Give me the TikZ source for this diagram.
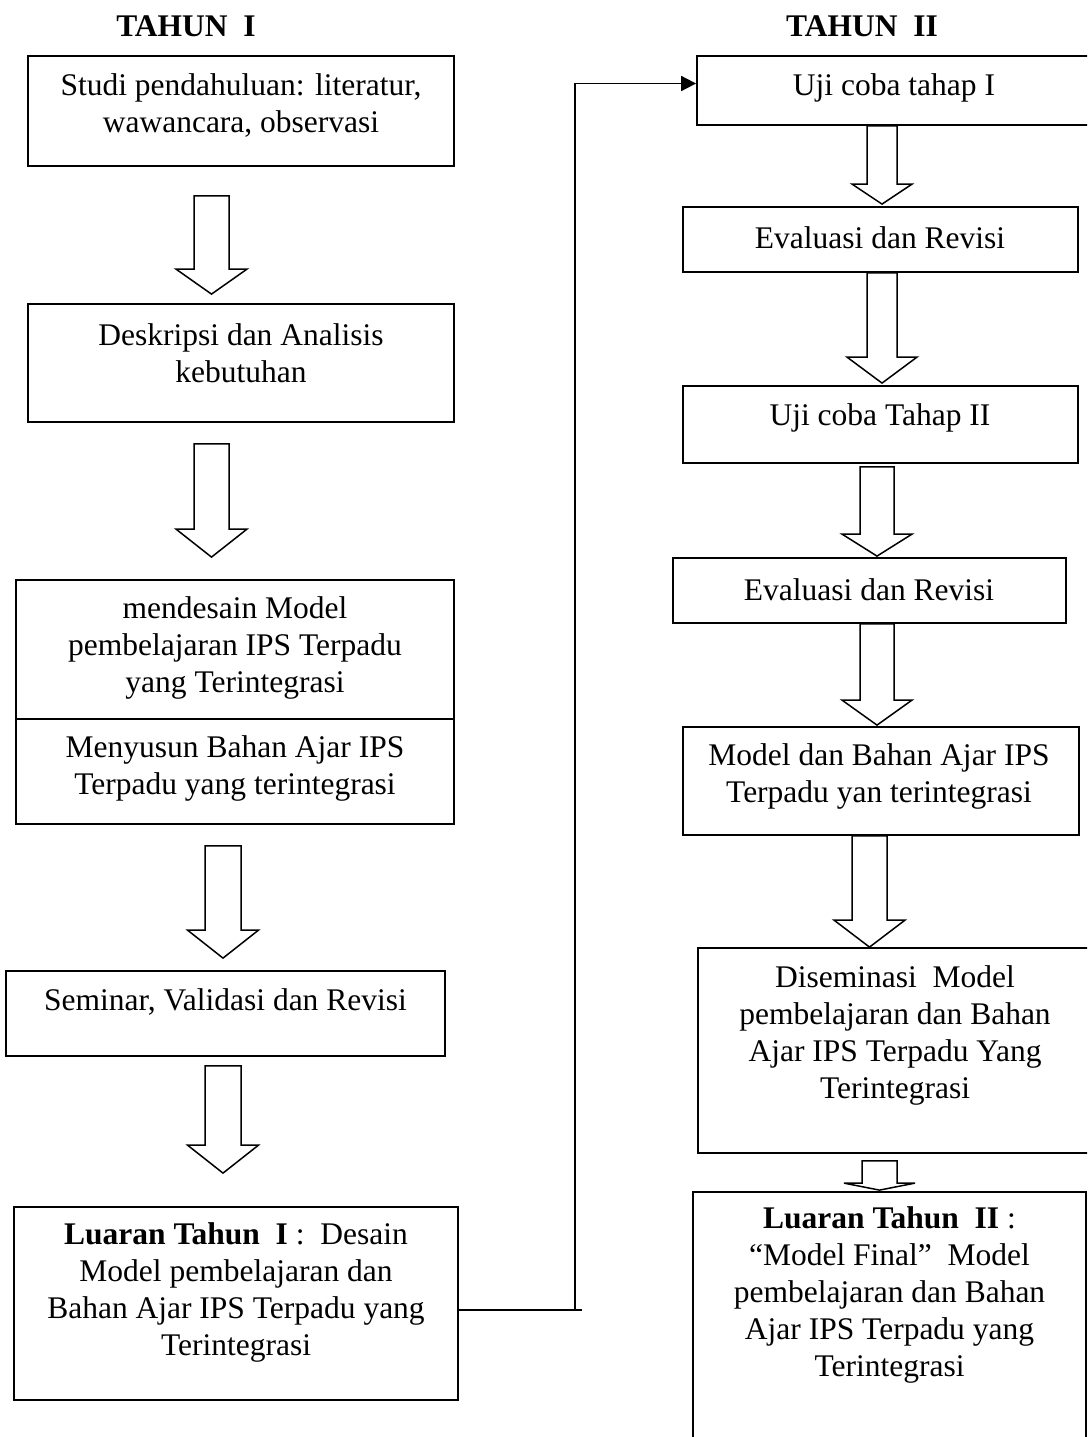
\documentclass[tikz,border=0pt]{standalone}
\usepackage{fontspec}
\setmainfont{Liberation Serif}
\usetikzlibrary{calc,arrows.meta}
\tikzset{>={Triangle[length=15pt,width=15pt]}}
% panah blok: #1 setengah batang, #2 setengah kepala, #3 panjang kepala, #4 pangkal, #5 ujung
\newcommand{\panah}[5]{%
  \draw[line width=1.5pt,fill=white] let \p1=(#4), \p2=(#5) in
    (\x1-#1pt,\y1) -- (\x1-#1pt,\y2+#3pt) -- (\x1-#2pt,\y2+#3pt) -- (\x1,\y2)
    -- (\x1+#2pt,\y2+#3pt) -- (\x1+#1pt,\y2+#3pt) -- (\x1+#1pt,\y1) -- cycle;}

\begin{document}
\begin{tikzpicture}[x=1pt,y=-1pt,
    kotak/.style={draw,line width=1.8pt,inner sep=0pt},
    teks/.style={align=center,inner sep=0pt,font=\fontsize{31.5}{37}\selectfont}]
    \useasboundingbox (0,0) rectangle (1087,1437);
    \clip (0,0) rectangle (1087,1437);
    % judul
    \node[teks,font=\fontsize{31.5}{37}\selectfont\bfseries] (th1) at (186,26) {TAHUN\ \ I};
    \node[teks,font=\fontsize{31.5}{37}\selectfont\bfseries] (th2) at (862,26) {TAHUN\ \ II};
    % tahun I
    \node[kotak,minimum width=426,minimum height=110] (studi) at (241,111) {};
    \node[teks] (studi-t) at (241,105) {Studi pendahuluan: literatur,\\ wawancara, observasi};
    \node[kotak,minimum width=426,minimum height=118] (deskripsi) at (241,363) {};
    \node[teks] (deskripsi-t) at (241,353) {Deskripsi dan Analisis\\ kebutuhan};
    \node[kotak,minimum width=438,minimum height=139] (mendesain) at (235,649.5) {};
    \node[teks] (mendesain-t) at (235,647.5) {mendesain Model\\ pembelajaran IPS Terpadu\\ yang Terintegrasi};
    \node[kotak,minimum width=438,minimum height=105] (menyusun) at (235,771.5) {};
    \node[teks] (menyusun-t) at (235,768.5) {Menyusun Bahan Ajar IPS\\ Terpadu yang terintegrasi};
    \node[kotak,minimum width=439,minimum height=85] (seminar) at (225.5,1013.5) {};
    \node[teks] (seminar-t) at (225.5,1002) {Seminar, Validasi dan Revisi};
    \node[kotak,minimum width=444,minimum height=193] (luaran1) at (236,1303.5) {};
    \node[teks] (luaran1-t) at (236,1292.5) {\textbf{Luaran Tahun\ \ I}\ :\ \ Desain\\ Model pembelajaran dan\\ Bahan Ajar IPS Terpadu yang\\ Terintegrasi};
    % tahun II
    \node[kotak,minimum width=394,minimum height=69] (uji1) at (894,90.5) {};
    \node[teks] (uji1-t) at (894,88) {Uji coba tahap I};
    \node[kotak,minimum width=395,minimum height=65] (eval1) at (880.5,239.5) {};
    \node[teks] (eval1-t) at (880,238) {Evaluasi dan Revisi};
    \node[kotak,minimum width=395,minimum height=77] (uji2) at (880.5,424.5) {};
    \node[teks] (uji2-t) at (880,418) {Uji coba Tahap II};
    \node[kotak,minimum width=393,minimum height=65] (eval2) at (869.5,590.5) {};
    \node[teks] (eval2-t) at (869,590) {Evaluasi dan Revisi};
    \node[kotak,minimum width=396,minimum height=108] (model) at (881,781) {};
    \node[teks] (model-t) at (879,776) {Model dan Bahan Ajar IPS\\ Terpadu yan terintegrasi};
    \node[kotak,minimum width=395,minimum height=205] (disem) at (895.5,1050.5) {};
    \node[teks] (disem-t) at (895,1035) {Diseminasi\ \ Model\\ pembelajaran dan Bahan\\ Ajar IPS Terpadu Yang\\ Terintegrasi};
    \node[kotak,minimum width=393,minimum height=278] (luaran2) at (889.5,1331) {};
    \node[teks] (luaran2-t) at (889.5,1295) {\textbf{Luaran Tahun\ \ II} :\\ ``Model Final''\ \ Model\\ pembelajaran dan Bahan\\ Ajar IPS Terpadu yang\\ Terintegrasi};
    % panah kiri
    \panah{17.5}{35.5}{25}{[xshift=-29.5pt,yshift=-29pt]studi.south}{[xshift=-29.5pt,yshift=9pt]deskripsi.north}
    \panah{17.5}{35.5}{28}{[xshift=-29.5pt,yshift=-21pt]deskripsi.south}{[xshift=-29.5pt,yshift=22pt]mendesain.north}
    \panah{18}{35.5}{28}{[xshift=-12pt,yshift=-21pt]menyusun.south}{[xshift=-12pt,yshift=12pt]seminar.north}
    \panah{18}{35.5}{28}{[xshift=-2.5pt,yshift=-9pt]seminar.south}{[xshift=-2.5pt,yshift=33pt]luaran1.north}
    % panah kanan
    \panah{15}{30}{20}{[xshift=-12pt]uji1.south}{[xshift=-12pt,yshift=2pt]eval1.north}
    \panah{15}{35}{26}{[xshift=1.5pt]eval1.south}{[xshift=1.5pt,yshift=2pt]uji2.north}
    \panah{17}{35}{22}{[xshift=-3.5pt,yshift=-3pt]uji2.south}{[xshift=-3.5pt,yshift=1pt]eval2.north}
    \panah{17}{35}{25}{[xshift=7.5pt]eval2.south}{[xshift=7.5pt,yshift=1pt]model.north}
    \panah{17.5}{35.5}{27}{[xshift=-11.5pt]model.south}{[xshift=-11.5pt]disem.north}
    \panah{17.5}{35.5}{7}{[xshift=-16pt,yshift=-7pt]disem.south}{[xshift=-16pt,yshift=1pt]luaran2.north}
    % garis tahun I ke tahun II
    \coordinate (belok) at (575,1310);
    \draw[line width=1.8pt] (luaran1.east |- belok) -- ([xshift=7pt]belok);
    \draw[line width=1.8pt,->] (belok) |- ([yshift=7pt]uji1.west);
\end{tikzpicture}
\end{document}
